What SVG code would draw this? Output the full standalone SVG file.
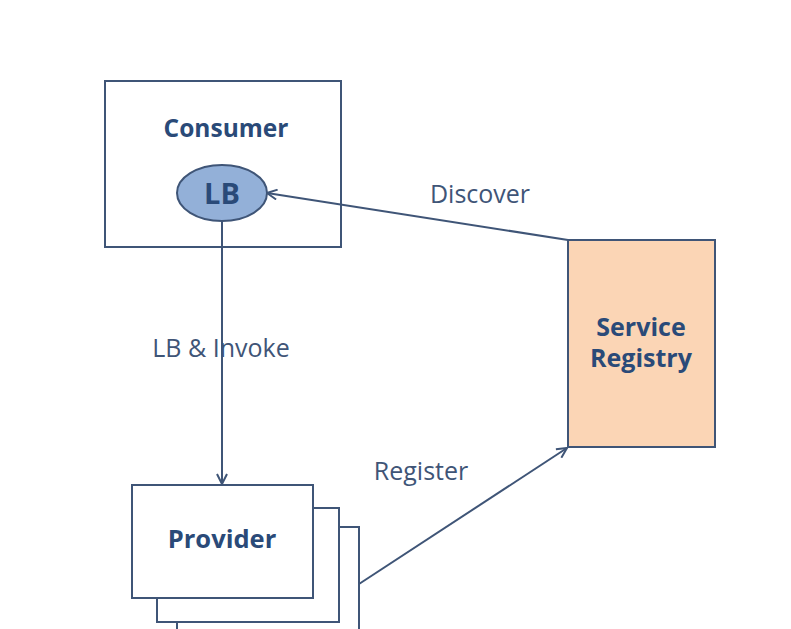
<svg xmlns="http://www.w3.org/2000/svg" width="791" height="629" viewBox="0 0 791 629">
<style>
.box{fill:#fff;stroke:#3f5577;stroke-width:2}
.t{font-family:"Open Sans","Noto Sans",sans-serif;font-weight:bold;fill:#2a4a78;text-anchor:middle}
.l{font-family:"Open Sans","Noto Sans",sans-serif;font-size:25px;fill:#3f5577;text-anchor:middle}
.c{stroke:#3f5577;stroke-width:2;fill:none}
</style>
<defs>
<marker id="arr" viewBox="0 0 12 12" refX="11" refY="6" markerWidth="12" markerHeight="12" markerUnits="userSpaceOnUse" orient="auto">
<path d="M1,1 L11,6 L1,11" fill="none" stroke="#3f5577" stroke-width="2"/>
</marker>
</defs>
<rect width="791" height="629" fill="#fff"/>
<g id="consumer">
<rect class="box" x="105" y="81" width="236" height="166"/>
<text class="t" x="226" y="137" font-size="24.5">Consumer</text>
</g>
<g id="lb">
<ellipse cx="222" cy="193" rx="45" ry="28" fill="#93b0d8" stroke="#3f5577" stroke-width="2"/>
<text class="t" x="222" y="204" font-size="29">LB</text>
</g>
<g id="provider">
<rect class="box" x="177" y="527" width="182" height="120"/>
<rect class="box" x="157" y="508" width="182" height="114"/>
<rect class="box" x="132" y="485" width="181" height="113"/>
<text class="t" x="222" y="548" font-size="25.5">Provider</text>
</g>
<g id="registry">
<rect x="568" y="240" width="147" height="207" fill="#fbd5b5" stroke="#3f5577" stroke-width="2"/>
<text class="t" x="641" y="336" font-size="25">Service</text>
<text class="t" x="641" y="367" font-size="25">Registry</text>
</g>
<g id="connectors">
<line class="c" x1="222" y1="221" x2="222" y2="484" marker-end="url(#arr)"/>
<line class="c" x1="568" y1="240" x2="267" y2="193" marker-end="url(#arr)"/>
<line class="c" x1="359" y1="584" x2="567" y2="448" marker-end="url(#arr)"/>
<text class="l" x="480" y="203">Discover</text>
<text class="l" x="221" y="357">LB &amp; Invoke</text>
<text class="l" x="421" y="480">Register</text>
</g>
</svg>
